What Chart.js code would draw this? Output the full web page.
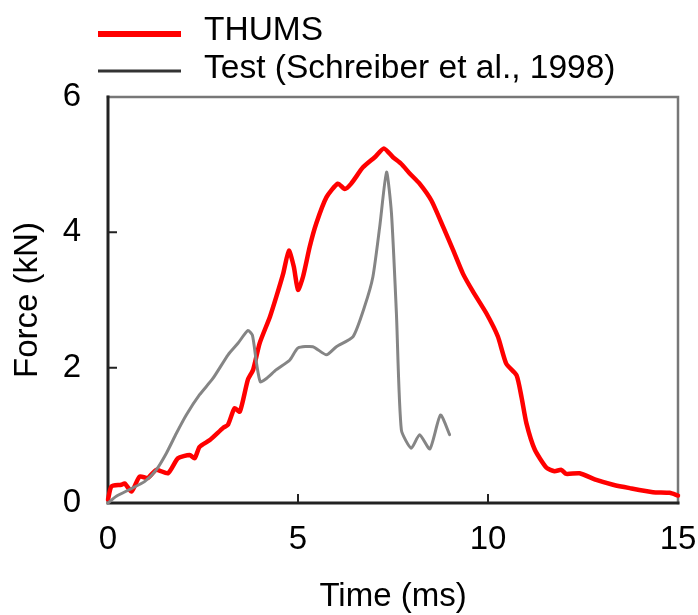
<!DOCTYPE html>
<html>
<head>
<meta charset="utf-8">
<script src="https://cdn.jsdelivr.net/npm/chart.js@4.4.0/dist/chart.umd.min.js"></script>
<style>
  html, body { margin: 0; padding: 0; background: #fff; }
  #wrap { width: 698px; height: 615px; }
</style>
</head>
<body>
<div id="wrap"><canvas id="forceChart" width="698" height="615"></canvas></div>
<script>
// THUMS simulation (red)
const thumsTime = [0, 0.09, 0.35, 0.44, 0.62, 0.83, 1.05, 1.27, 1.58, 1.84, 2.15, 2.28, 2.41, 2.68,
  3.03, 3.16, 3.33, 3.47, 3.68, 3.82, 3.99, 4.26, 4.43, 4.61, 4.76, 4.89, 5.0, 5.13, 5.31, 5.48,
  5.75, 6.05, 6.23, 6.4, 6.71, 7.02, 7.26, 7.5, 7.72, 7.94, 8.2, 8.51, 8.82, 9.08, 9.34, 9.61,
  9.96, 10.26, 10.48, 10.75, 10.88, 11.01, 11.23, 11.54, 11.75, 11.93, 12.06, 12.41, 12.85,
  13.29, 13.73, 14.34, 14.78, 15.0]
const thumsForce = [0.05, 0.245, 0.27, 0.29, 0.17, 0.39, 0.37, 0.49, 0.44, 0.66, 0.71, 0.66, 0.83, 0.93,
  1.11, 1.16, 1.4, 1.35, 1.82, 1.97, 2.36, 2.75, 3.05, 3.39, 3.73, 3.49, 3.15, 3.34, 3.79, 4.13,
  4.52, 4.72, 4.64, 4.72, 4.96, 5.11, 5.24, 5.11, 5.01, 4.87, 4.72, 4.47, 4.08, 3.74, 3.39, 3.12,
  2.8, 2.46, 2.06, 1.89, 1.57, 1.18, 0.79, 0.52, 0.47, 0.49, 0.43, 0.44, 0.34,
  0.27, 0.22, 0.16, 0.15, 0.11]

// Test (Schreiber et al., 1998) (grey)
const testTime = [0, 0.22, 0.57, 0.97, 1.27, 1.54, 1.8, 2.06, 2.41, 2.76, 3.16, 3.42, 3.68, 3.8, 3.91,
  4.01, 4.17, 4.43, 4.78, 5.0, 5.39, 5.75, 6.01, 6.45, 6.75, 6.97, 7.15, 7.33, 7.46, 7.59, 7.72,
  7.98, 8.2, 8.47, 8.75, 8.99]
const testForce = [0, 0.1, 0.2, 0.32, 0.49, 0.74, 1.03, 1.3, 1.6, 1.84, 2.19, 2.36, 2.55, 2.48, 2.06,
  1.79, 1.84, 1.97, 2.11, 2.29, 2.31, 2.19, 2.31, 2.46, 2.9, 3.34, 4.08, 4.89, 4.28, 2.8, 1.08,
  0.81, 1.01, 0.8, 1.3, 1.01]

const xTicks = [0, 5, 10, 15]
const yTicks = [0, 2, 4, 6]

const FONT = '"Liberation Sans", Arial, sans-serif'

const toPoints = (xs, ys) => xs.map((x, i) => ({ x: x, y: ys[i] }))

// cadre + graduations intérieures + légende
const framePlugin = {
  id: 'frame',
  beforeDatasetsDraw(chart) {
    const { ctx, chartArea: a, scales } = chart
    ctx.save()
    ctx.lineCap = 'square'
    ctx.lineWidth = 2.5
    ctx.strokeStyle = '#777'
    ctx.beginPath()
    ctx.moveTo(a.left, a.top)
    ctx.lineTo(a.right, a.top)
    ctx.lineTo(a.right, a.bottom)
    ctx.stroke()
    ctx.strokeStyle = '#222'
    ctx.lineWidth = 3
    ctx.beginPath()
    ctx.moveTo(a.left, a.top)
    ctx.lineTo(a.left, a.bottom)
    ctx.lineTo(a.right, a.bottom)
    ctx.stroke()
    ctx.lineWidth = 2
    ctx.beginPath()
    xTicks.slice(1, -1).forEach((v) => {
      const px = scales.x.getPixelForValue(v)
      ctx.moveTo(px, a.bottom)
      ctx.lineTo(px, a.bottom - 8)
    })
    yTicks.slice(1, -1).forEach((v) => {
      const py = scales.y.getPixelForValue(v)
      ctx.moveTo(a.left, py)
      ctx.lineTo(a.left + 8, py)
    })
    ctx.stroke()
    ctx.restore()
  },
  afterDraw(chart) {
    const { ctx } = chart
    ctx.save()
    ctx.lineCap = 'butt'
    ctx.strokeStyle = '#ff0000'
    ctx.lineWidth = 6
    ctx.beginPath()
    ctx.moveTo(98, 34)
    ctx.lineTo(181, 34)
    ctx.stroke()
    ctx.strokeStyle = '#333'
    ctx.lineWidth = 3
    ctx.beginPath()
    ctx.moveTo(98, 71)
    ctx.lineTo(181, 71)
    ctx.stroke()
    ctx.fillStyle = '#000'
    ctx.font = '33.5px ' + FONT
    ctx.textBaseline = 'alphabetic'
    ctx.fillText('THUMS', 204, 40)
    ctx.fillText('Test (Schreiber et al., 1998)', 204, 78)
    ctx.restore()
  },
}

new Chart(document.getElementById('forceChart'), {
  type: 'line',
  data: {
    datasets: [
      {
        label: 'Test (Schreiber et al., 1998)',
        data: toPoints(testTime, testForce),
        borderColor: '#858585',
        borderWidth: 3,
        pointRadius: 0,
        tension: 0.2,
        borderJoinStyle: 'round',
        borderCapStyle: 'round',
      },
      {
        label: 'THUMS',
        data: toPoints(thumsTime, thumsForce),
        borderColor: '#ff0000',
        borderWidth: 4.5,
        pointRadius: 0,
        tension: 0.2,
        borderJoinStyle: 'round',
        borderCapStyle: 'round',
      },
    ],
  },
  options: {
    responsive: false,
    animation: false,
    clip: false,
    layout: {
      padding: { top: 97, right: 20, left: 0, bottom: 0 },
    },
    plugins: {
      legend: { display: false },
      tooltip: { enabled: false },
    },
    scales: {
      x: {
        type: 'linear',
        min: 0,
        max: 15,
        afterBuildTicks: (scale) => {
          scale.ticks = xTicks.map((v) => ({ value: v }))
        },
        afterFit: (scale) => {
          scale.height = 112
          scale.paddingLeft = 0
          scale.paddingRight = 0
        },
        grid: { display: false, drawTicks: false },
        border: { display: false },
        ticks: {
          color: '#000',
          padding: 17,
          maxRotation: 0,
          font: { family: FONT, size: 33 },
        },
        title: {
          display: true,
          text: 'Time (ms)',
          color: '#000',
          padding: { top: 0, bottom: -2 },
          font: { family: FONT, size: 33 },
        },
      },
      y: {
        type: 'linear',
        min: 0,
        max: 6,
        afterBuildTicks: (scale) => {
          scale.ticks = yTicks.map((v) => ({ value: v }))
        },
        afterFit: (scale) => {
          scale.width = 108
          scale.paddingTop = 0
          scale.paddingBottom = 0
        },
        grid: { display: false, drawTicks: false },
        border: { display: false },
        ticks: {
          color: '#000',
          padding: 27,
          font: { family: FONT, size: 33 },
        },
        title: {
          display: true,
          text: 'Force (kN)',
          color: '#000',
          padding: { top: 8, bottom: 0 },
          font: { family: FONT, size: 33 },
        },
      },
    },
  },
  plugins: [framePlugin],
})
</script>
</body>
</html>
